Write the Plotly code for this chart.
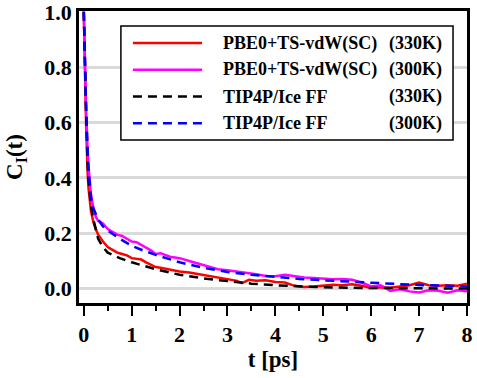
import plotly.graph_objects as go

# time grid for the noisy PBE0 curves
t_pbe = [0, 0.02, 0.05, 0.08, 0.1, 0.15, 0.2, 0.25, 0.3, 0.4, 0.5, 0.6, 0.7, 0.8, 0.9,
         1.0, 1.1, 1.2, 1.3, 1.4, 1.5, 1.6, 1.8, 2.0, 2.2, 2.4, 2.6, 2.8, 3.0, 3.2,
         3.3, 3.45, 3.6, 3.8, 4.0, 4.2, 4.4, 4.6, 4.8, 5.0, 5.2, 5.4, 5.6, 5.8, 6.0,
         6.2, 6.4, 6.6, 6.8, 7.0, 7.2, 7.4, 7.6, 7.8, 8.0]
pbe_330 = [1.0, 0.78, 0.58, 0.42, 0.36, 0.28, 0.24, 0.215, 0.195, 0.17, 0.15, 0.14, 0.13,
           0.125, 0.12, 0.11, 0.108, 0.105, 0.095, 0.085, 0.078, 0.075, 0.068, 0.062,
           0.058, 0.052, 0.047, 0.042, 0.035, 0.028, 0.02, 0.032, 0.028, 0.03, 0.024,
           0.022, 0.01, 0.006, 0.008, 0.012, 0.014, 0.012, 0.016, 0.01, 0.002, 0.005,
           0.003, 0.008, 0.012, 0.022, 0.012, 0.01, 0.012, 0.01, 0.018]
pbe_300 = [1.0, 0.8, 0.63, 0.5, 0.44, 0.34, 0.29, 0.26, 0.245, 0.235, 0.215, 0.205, 0.195,
           0.19, 0.18, 0.17, 0.168, 0.158, 0.15, 0.138, 0.125, 0.128, 0.115, 0.11, 0.1,
           0.09, 0.078, 0.07, 0.066, 0.062, 0.058, 0.055, 0.052, 0.046, 0.045, 0.05,
           0.045, 0.04, 0.038, 0.036, 0.034, 0.035, 0.032, 0.022, 0.008, 0.012, -0.008,
           -0.002, -0.01, -0.014, -0.006, -0.008, -0.015, -0.006, -0.01]

# smooth force-field curves
t_ff = [0, 0.02, 0.05, 0.08, 0.1, 0.15, 0.2, 0.3, 0.4, 0.5, 0.75, 1.0, 1.25, 1.5, 2.0,
        2.5, 3.0, 3.5, 4.0, 4.5, 5.0, 5.5, 6.0, 6.5, 7.0, 7.5, 8.0]
ff_330 = [1.0, 0.8, 0.62, 0.45, 0.39, 0.3, 0.25, 0.18, 0.15, 0.13, 0.11, 0.095, 0.082,
          0.07, 0.05, 0.037, 0.027, 0.018, 0.012, 0.008, 0.005, 0.003, 0.002, 0.001,
          0.001, 0.0, 0.0]
ff_300 = [1.0, 0.82, 0.65, 0.5, 0.43, 0.33, 0.29, 0.25, 0.225, 0.21, 0.18, 0.155, 0.137,
          0.122, 0.095, 0.075, 0.06, 0.05, 0.042, 0.035, 0.03, 0.025, 0.021, 0.017,
          0.013, 0.01, 0.008]

names = ["PBE0+TS-vdW(SC)", "PBE0+TS-vdW(SC)", "TIP4P/Ice FF", "TIP4P/Ice FF"]
temps = ["(330K)", "(300K)", "(330K)", "(300K)"]
colors = ["rgb(255,0,0)", "rgb(255,0,255)", "rgb(0,0,0)", "rgb(0,0,255)"]
dashes = ["solid", "solid", "9px,6px", "9px,6px"]

serif = "Liberation Serif, Times New Roman, serif"

fig = go.Figure()

series = [(t_pbe, pbe_330), (t_pbe, pbe_300), (t_ff, ff_330), (t_ff, ff_300)]
# solid lines first, dashed ones on top
for i in [0, 1, 2, 3]:
    x, y = series[i]
    fig.add_trace(go.Scatter(x=x, y=y, mode='lines',
                             line=dict(color=colors[i], width=2.5, dash=dashes[i]),
                             showlegend=False))

# legend drawn by hand (long samples, right-aligned temperatures)
fig.add_shape(type="rect", xref="paper", yref="paper",
              x0=0.108, x1=0.964, y0=0.558, y1=0.949,
              line=dict(color="black", width=1.5), fillcolor="white")
for i in range(4):
    yy = 0.890 - i * 0.0915
    fig.add_shape(type="line", xref="paper", yref="paper",
                  x0=0.139, x1=0.317, y0=yy, y1=yy,
                  line=dict(color=colors[i], width=2.5, dash=dashes[i]))
    fig.add_annotation(xref="paper", yref="paper", x=0.366, y=yy, text=names[i],
                       showarrow=False, xanchor="left", yanchor="middle",
                       font=dict(family=serif, size=18, color="black", weight="bold"))
    fig.add_annotation(xref="paper", yref="paper", x=0.94, y=yy, text=temps[i],
                       showarrow=False, xanchor="right", yanchor="middle",
                       font=dict(family=serif, size=18, color="black", weight="bold"))

fig.update_layout(
    width=477, height=378,
    plot_bgcolor='white', paper_bgcolor='white',
    margin=dict(l=79, r=10, t=11, b=75),
    xaxis=dict(
        range=[-0.1, 8.0], automargin=False,
        showline=True, mirror=True, linecolor='black', linewidth=2.5,
        showgrid=False, zeroline=False,
        ticks='outside', ticklen=10, tickwidth=2, tickcolor='black',
        tickvals=[0, 1, 2, 3, 4, 5, 6, 7, 8],
        minor=dict(tickvals=[0.5, 1.5, 2.5, 3.5, 4.5, 5.5, 6.5, 7.5],
                   ticks='outside', ticklen=5, tickwidth=2, tickcolor='black'),
        tickfont=dict(family=serif, size=22, color='black', weight='bold'),
        ticklabeloverflow='allow',
        title=dict(text='t [ps]', standoff=2,
                   font=dict(family=serif, size=23, color='black', weight='bold')),
    ),
    yaxis=dict(
        range=[-0.052, 1.003], automargin=False,
        showline=True, mirror=True, linecolor='black', linewidth=2.5,
        showgrid=True, gridcolor='rgb(218,218,218)', gridwidth=3, zeroline=False,
        ticks='', tickvals=[0, 0.2, 0.4, 0.6, 0.8, 1.0],
        ticktext=['0.0', '0.2', '0.4', '0.6', '0.8', '1.0'],
        tickfont=dict(family=serif, size=22, color='black', weight='bold'),
        ticklabeloverflow='allow',
        title=dict(text='C<sub>I</sub>(t)', standoff=16,
                   font=dict(family=serif, size=23, color='black', weight='bold')),
    ),
)

fig.write_html("out.html", config={'displayModeBar': False},
               post_script="document.body.style.margin='0';")
